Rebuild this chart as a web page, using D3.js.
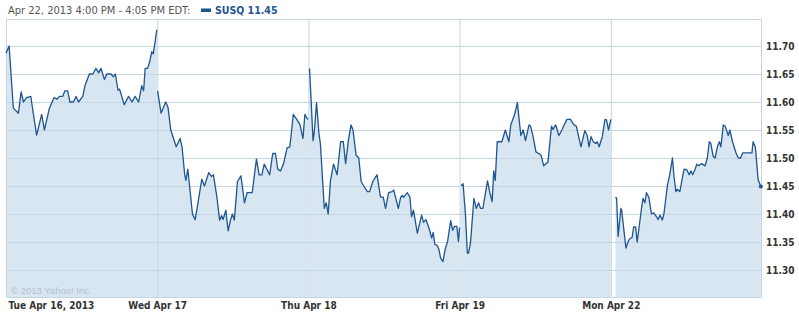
<!DOCTYPE html>
<html>
<head>
<meta charset="utf-8">
<script src="https://cdn.jsdelivr.net/npm/d3@7/dist/d3.min.js"></script>
<style>
    body { margin: 0; background: #fff; }
    svg { display: block; }
</style>
</head>
<body>
<svg id="chart" width="799" height="313"></svg>
<script>
// tick labels
const dayLabels = ['Tue Apr 16, 2013', 'Wed Apr 17', 'Thu Apr 18', 'Fri Apr 19', 'Mon Apr 22']
const yTicks = [11.30, 11.35, 11.40, 11.45, 11.50, 11.55, 11.60, 11.65, 11.70]
const lastPrice = 11.45

// [minutes after 9:30 open, price]
const tue = [[0,11.687],[8,11.70],[19,11.589],[32,11.58],[39,11.618],[45,11.60],[53,11.608],[64,11.61],[66,11.60],[79,11.541],[92,11.578],[99,11.55],[112,11.589],[124,11.608],[131,11.605],[138,11.61],[146,11.61],[152,11.62],[159,11.62],[165,11.60],[174,11.60],[181,11.61],[187,11.60],[198,11.61],[204,11.63],[215,11.65],[224,11.65],[232,11.66],[239,11.652],[245,11.66],[254,11.64],[260,11.65],[271,11.65],[277,11.645],[282,11.65],[289,11.621],[293,11.623],[305,11.595],[316,11.61],[325,11.60],[333,11.61],[342,11.60],[350,11.629],[355,11.62],[359,11.66],[365,11.66],[370,11.67],[376,11.69],[380,11.686],[389,11.729]]
const wed = [[1,11.62],[10,11.58],[22,11.60],[28,11.59],[35,11.55],[49,11.52],[59,11.535],[64,11.52],[71,11.47],[74,11.46],[79,11.48],[91,11.40],[98,11.39],[107,11.428],[115,11.462],[122,11.45],[133,11.474],[140,11.467],[145,11.47],[154,11.43],[161,11.389],[166,11.397],[170,11.39],[177,11.407],[183,11.37],[189,11.389],[194,11.40],[199,11.389],[207,11.458],[216,11.468],[225,11.42],[232,11.438],[245,11.438],[256,11.498],[263,11.47],[270,11.47],[276,11.489],[283,11.48],[290,11.47],[298,11.508],[305,11.508],[311,11.48],[318,11.477],[326,11.49],[335,11.518],[342,11.52],[345,11.538],[351,11.578],[359,11.57],[368,11.56],[376,11.535],[381,11.578],[387,11.57],[390,11.57]]
const thu = [[3,11.66],[12,11.531],[15,11.545],[21,11.599],[27,11.545],[31,11.525],[41,11.41],[46,11.42],[51,11.40],[57,11.46],[65,11.489],[74,11.47],[83,11.529],[90,11.529],[96,11.49],[103,11.531],[110,11.559],[115,11.55],[123,11.505],[130,11.50],[136,11.458],[143,11.45],[152,11.44],[158,11.44],[166,11.458],[177,11.47],[186,11.43],[193,11.43],[199,11.41],[207,11.438],[216,11.44],[220,11.443],[232,11.41],[238,11.43],[242,11.433],[246,11.43],[255,11.438],[262,11.43],[266,11.395],[271,11.407],[281,11.366],[292,11.398],[297,11.385],[303,11.39],[311,11.375],[318,11.357],[322,11.367],[326,11.346],[333,11.343],[337,11.336],[341,11.321],[347,11.315],[353,11.338],[359,11.351],[367,11.388],[372,11.371],[377,11.378],[383,11.378],[387,11.351],[390,11.376]]
const fri = [[4,11.451],[9,11.454],[15,11.40],[20,11.33],[23,11.33],[28,11.348],[37,11.428],[43,11.41],[49,11.42],[54,11.41],[60,11.41],[72,11.459],[78,11.438],[84,11.422],[88,11.477],[92,11.46],[97,11.529],[109,11.529],[118,11.55],[127,11.529],[132,11.559],[142,11.578],[149,11.599],[158,11.54],[164,11.55],[170,11.531],[179,11.559],[183,11.557],[189,11.54],[197,11.511],[204,11.508],[210,11.505],[217,11.486],[228,11.493],[237,11.557],[241,11.551],[248,11.559],[256,11.54],[264,11.55],[271,11.561],[277,11.569],[286,11.569],[295,11.559],[301,11.557],[313,11.52],[323,11.549],[329,11.54],[334,11.52],[339,11.538],[345,11.529],[351,11.526],[355,11.529],[360,11.52],[368,11.538],[375,11.569],[379,11.568],[384,11.55],[390,11.569]]
const mon = [[12,11.43],[15,11.428],[19,11.36],[26,11.41],[28,11.407],[39,11.339],[46,11.353],[51,11.357],[55,11.358],[59,11.377],[64,11.377],[68,11.35],[79,11.409],[83,11.428],[88,11.42],[92,11.438],[98,11.43],[105,11.40],[111,11.402],[118,11.395],[122,11.39],[127,11.398],[133,11.389],[137,11.40],[146,11.451],[152,11.47],[159,11.50],[163,11.467],[168,11.44],[171,11.444],[178,11.44],[189,11.48],[196,11.479],[202,11.47],[207,11.477],[211,11.47],[217,11.479],[222,11.489],[227,11.486],[234,11.49],[243,11.486],[249,11.50],[254,11.529],[258,11.526],[264,11.503],[269,11.50],[275,11.52],[280,11.529],[284,11.52],[290,11.559],[295,11.557],[303,11.54],[307,11.55],[314,11.529],[323,11.509],[329,11.50],[335,11.50],[340,11.509],[351,11.509],[364,11.509],[367,11.529],[373,11.519],[380,11.461],[387,11.449]]

const days = [tue, wed, thu, fri, mon]
const sessionLength = 390

const lineColor = '#1f5590'
const fillColor = '#d7e6f1'
const gridColor = '#c5d5e1'
const labelFont = '"DejaVu Sans Condensed", "DejaVu Sans", sans-serif'

const dms = {
    width: 799,
    height: 313,
    left: 6,
    right: 762,
    top: 19,
    bottom: 298
}

const svg = d3.select('#chart')

const xScale = d3.scaleLinear()
    .domain([0, days.length * sessionLength])
    .range([dms.left, dms.right])

const yScale = d3.scaleLinear()
    .domain([11.25, 11.75])
    .range([298, 18])

const series = days.map((day, i) => day.map(([m, v]) => ({ t: i * sessionLength + m, v })))

// area fill, one piece per session
const areaGenerator = d3.area()
    .x(d => xScale(d.t))
    .y0(dms.bottom)
    .y1(d => yScale(d.v))

svg.append('g')
    .selectAll('path')
    .data(series)
    .join('path')
        .attr('d', areaGenerator)
        .attr('fill', fillColor)

// grid
const hGrid = svg.append('g')
    .attr('transform', `translate(${dms.right},0)`)
    .call(d3.axisLeft(yScale).tickValues(yTicks).tickSize(dms.right - dms.left).tickFormat(''))
hGrid.select('.domain').remove()
hGrid.selectAll('line').attr('stroke', gridColor)

const dayStarts = days.map((d, i) => i * sessionLength)

const vGrid = svg.append('g')
    .attr('transform', `translate(0,${dms.bottom})`)
    .call(d3.axisBottom(xScale).tickValues(dayStarts.slice(1)).tickSize(-(dms.bottom - dms.top)).tickFormat(''))
vGrid.select('.domain').remove()
vGrid.selectAll('line').attr('stroke', gridColor)

// frame
svg.append('rect')
    .attr('x', dms.left + 0.5)
    .attr('y', dms.top + 0.5)
    .attr('width', dms.right - dms.left - 1)
    .attr('height', dms.bottom - dms.top - 1)
    .attr('fill', 'none')
    .attr('stroke', gridColor)

// price line
const lineGenerator = d3.line()
    .x(d => xScale(d.t))
    .y(d => yScale(d.v))

svg.append('g')
    .selectAll('path')
    .data(series)
    .join('path')
        .attr('d', lineGenerator)
        .attr('fill', 'none')
        .attr('stroke', lineColor)
        .attr('stroke-width', 1.3)
        .attr('stroke-linejoin', 'round')

const last = series[series.length - 1].slice(-1)[0]
svg.append('circle')
    .attr('cx', xScale(last.t))
    .attr('cy', yScale(last.v))
    .attr('r', 2)
    .attr('fill', lineColor)

// y axis labels
const yAxis = svg.append('g')
    .attr('transform', `translate(${dms.right},0)`)
    .call(d3.axisRight(yScale).tickValues(yTicks).tickSize(0).tickPadding(4).tickFormat(d3.format('.2f')))
yAxis.select('.domain').remove()
yAxis.selectAll('text')
    .attr('fill', '#333')
    .style('font-family', labelFont)
    .style('font-size', '10px')
    .style('font-weight', 'bold')

// x axis labels
const xAxis = svg.append('g')
    .attr('transform', `translate(0,${dms.bottom})`)
    .call(d3.axisBottom(xScale).tickValues(dayStarts).tickSize(0).tickPadding(4).tickFormat((d, i) => dayLabels[i]))
xAxis.select('.domain').remove()
xAxis.selectAll('text')
    .attr('fill', '#333')
    .style('font-family', labelFont)
    .style('font-size', '10px')
    .style('font-weight', 'bold')
xAxis.select('.tick text')
    .attr('text-anchor', 'start')
    .attr('dx', 2)

// copyright
svg.append('text')
    .attr('x', 11)
    .attr('y', 294)
    .attr('fill', '#b5c1cc')
    .style('font-family', '"Liberation Sans", Arial, sans-serif')
    .style('font-size', '9.5px')
    .text('© 2013 Yahoo! Inc.')

// header
svg.append('text')
    .attr('x', 8)
    .attr('y', 14)
    .attr('fill', '#555')
    .style('font-family', labelFont)
    .style('font-size', '11px')
    .text('Apr 22, 2013 4:00 PM - 4:05 PM EDT:')

svg.append('rect')
    .attr('x', 201)
    .attr('y', 8.5)
    .attr('width', 10)
    .attr('height', 3.5)
    .attr('fill', lineColor)

svg.append('text')
    .attr('x', 215)
    .attr('y', 14)
    .attr('fill', lineColor)
    .style('font-family', labelFont)
    .style('font-size', '10.5px')
    .style('font-weight', 'bold')
    .text(`SUSQ ${lastPrice.toFixed(2)}`)
</script>
</body>
</html>
